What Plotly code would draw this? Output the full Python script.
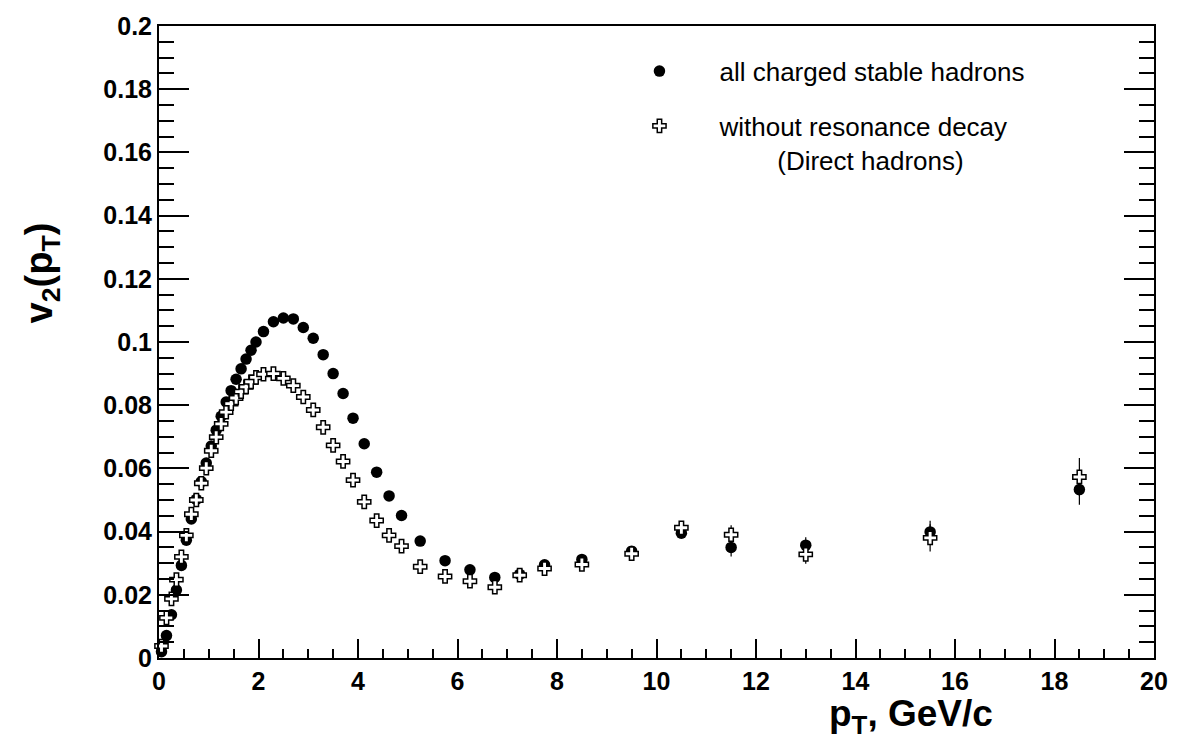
import plotly.graph_objects as go

# ---- data -------------------------------------------------------------
pt = [0.05, 0.15, 0.25, 0.35, 0.45, 0.55, 0.65, 0.75, 0.85, 0.95,
      1.05, 1.15, 1.25, 1.35, 1.45, 1.55, 1.65, 1.75, 1.85, 1.95,
      2.1, 2.3, 2.5, 2.7, 2.9, 3.1, 3.3, 3.5, 3.7, 3.9,
      4.125, 4.375, 4.625, 4.875,
      5.25, 5.75, 6.25, 6.75, 7.25, 7.75,
      8.5, 9.5, 10.5, 11.5, 13.0, 15.5, 18.5]

v2_all = [0.0020, 0.0071, 0.0137, 0.0215, 0.0293, 0.0373, 0.0440, 0.0502, 0.0558, 0.0617,
          0.0671, 0.0721, 0.0765, 0.0810, 0.0846, 0.0882, 0.0915, 0.0946, 0.0974, 0.1000,
          0.1033, 0.1064, 0.1076, 0.1073, 0.1046, 0.1012, 0.0960, 0.0900, 0.0837, 0.0759,
          0.0678, 0.0588, 0.0513, 0.0451,
          0.0370, 0.0308, 0.0279, 0.0255, 0.0265, 0.0295,
          0.0312, 0.0338, 0.0395, 0.0350, 0.0357, 0.0399, 0.0533]

err_all = [0.0003] * 20 + [0.0004] * 10 + [0.0005] * 4 + [0.0007] * 6 + \
          [0.0012, 0.0015, 0.0015, 0.0029, 0.0025, 0.0035, 0.0048]

v2_direct = [0.0038, 0.0127, 0.0187, 0.0248, 0.0320, 0.0388, 0.0455, 0.0500, 0.0553, 0.0601,
             0.0656, 0.0699, 0.0741, 0.0778, 0.0805, 0.0823, 0.0843, 0.0858, 0.0874, 0.0888,
             0.0898, 0.0900, 0.0885, 0.0862, 0.0826, 0.0785, 0.0730, 0.0673, 0.0622, 0.0563,
             0.0494, 0.0435, 0.0388, 0.0354,
             0.0289, 0.0258, 0.0243, 0.0224, 0.0262, 0.0283,
             0.0296, 0.0330, 0.0412, 0.0390, 0.0328, 0.0380, 0.0573]

err_direct = [0.0003] * 20 + [0.0004] * 10 + [0.0006] * 4 + [0.0008] * 6 + \
             [0.0015, 0.0018, 0.0020, 0.0030, 0.0030, 0.0043, 0.0060]

x_tickvals = [0, 2, 4, 6, 8, 10, 12, 14, 16, 18, 20]
x_ticktext = ["0", "2", "4", "6", "8", "10", "12", "14", "16", "18", "20"]
y_tickvals = [0, 0.02, 0.04, 0.06, 0.08, 0.1, 0.12, 0.14, 0.16, 0.18, 0.2]
y_ticktext = ["0", "0.02", "0.04", "0.06", "0.08", "0.1", "0.12", "0.14", "0.16", "0.18", "0.2"]

name_all = "all charged stable hadrons"
name_direct = "without resonance decay<br>" + "\u00a0" * 8 + "(Direct hadrons)"

# ---- figure -----------------------------------------------------------
FONT = "Liberation Sans, Arial, Helvetica, sans-serif"
W, H = 1180, 746
ML, MR, MT, MB = 159, 18, 17, 88

fig = go.Figure()
fig.add_trace(go.Scatter(
    x=pt, y=v2_all, mode="markers", name=name_all, legendgroup="a",
    marker=dict(symbol="circle", size=11.5, color="black", line=dict(width=0)),
    error_y=dict(type="data", array=err_all, color="black", thickness=1.2, width=0),
    cliponaxis=False))
fig.add_trace(go.Scatter(
    x=pt, y=v2_direct, mode="markers", name=name_direct, legendgroup="b",
    marker=dict(symbol="cross", size=11, color="white", line=dict(width=1.5, color="black")),
    error_y=dict(type="data", array=err_direct, color="black", thickness=1.2, width=0),
    cliponaxis=False))

axis_common = dict(showgrid=False, zeroline=False, showline=True, linecolor="black",
                   linewidth=2, ticks="inside", tickcolor="black", tickwidth=1.5,
                   tickfont=dict(family=FONT, size=25, color="black", weight="bold"))

fig.update_xaxes(range=[0, 20], tickmode="array", tickvals=x_tickvals, ticktext=x_ticktext,
                 ticklen=19, mirror=True,
                 minor=dict(dtick=0.5, ticklen=9.5, ticks="inside", tickcolor="black", tickwidth=1.5),
                 **axis_common)
fig.update_yaxes(range=[0, 0.2], tickmode="array", tickvals=y_tickvals, ticktext=y_ticktext,
                 ticklen=30, mirror="ticks",
                 minor=dict(dtick=0.005, ticklen=15, ticks="inside", tickcolor="black", tickwidth=1.5),
                 **axis_common)

def px2paper_x(px):
    return (px - ML) / (W - ML - MR)

def px2paper_y(py):
    return (H - MB - py) / (H - MT - MB)

fig.add_annotation(text="<b>p<sub>T</sub>, GeV/c</b>", xref="paper", yref="paper",
                   x=px2paper_x(1002), y=px2paper_y(717), xanchor="right", yanchor="middle",
                   showarrow=False, font=dict(family=FONT, size=37, color="black"))
fig.add_annotation(text="<b>v<sub>2</sub>(p<sub>T</sub>)</b>", xref="paper", yref="paper",
                   x=px2paper_x(42), y=px2paper_y(267), xanchor="center", yanchor="middle",
                   textangle=-90, showarrow=False, font=dict(family=FONT, size=38, color="black"))

fig.update_layout(
    width=W, height=H, margin=dict(l=ML, r=MR, t=MT, b=MB),
    paper_bgcolor="white", plot_bgcolor="white",
    showlegend=True,
    legend=dict(x=px2paper_x(603), y=px2paper_y(39), xanchor="left", yanchor="top",
                font=dict(family=FONT, size=26, color="black"), bgcolor="rgba(0,0,0,0)",
                itemwidth=110, valign="top", traceorder="grouped", tracegroupgap=18,
                itemclick=False),
)

fig.write_html("out.html")
